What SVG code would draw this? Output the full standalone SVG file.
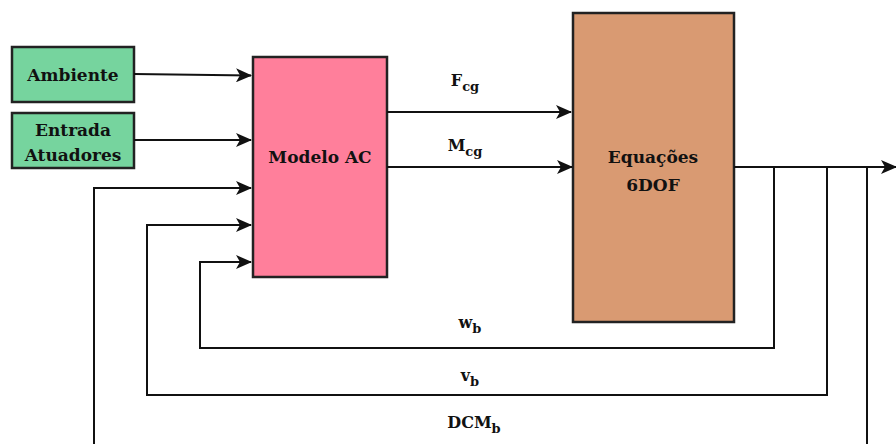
<svg xmlns="http://www.w3.org/2000/svg" width="896" height="444" viewBox="0 0 896 444">
<style>
.box{stroke:#222;stroke-width:2.5}
.t{font-family:"DejaVu Serif","Liberation Serif",serif;font-weight:bold;font-size:17px;fill:#111;text-anchor:middle}
.l{font-family:"DejaVu Serif","Liberation Serif",serif;font-weight:bold;font-size:16px;fill:#111;text-anchor:middle}
.sub{font-size:13px}
.c{fill:none;stroke:#111;stroke-width:2}
</style>
<defs>
<marker id="a" markerWidth="16" markerHeight="14" refX="15" refY="7" orient="auto" markerUnits="userSpaceOnUse">
<path d="M0,0 L16,7 L0,14 L4,7 Z" fill="#111"/>
</marker>
</defs>
<rect width="896" height="444" fill="#fff"/>
<g id="ambiente">
<rect class="box" x="12" y="47" width="122" height="55" fill="#76d49e"/>
<text class="t" x="73" y="81">Ambiente</text>
</g>
<g id="entrada">
<rect class="box" x="12" y="113" width="122" height="55" fill="#76d49e"/>
<text class="t" x="73" y="136">Entrada</text>
<text class="t" x="73" y="161">Atuadores</text>
</g>
<g id="modelo">
<rect class="box" x="253" y="57" width="134" height="220" fill="#ff7f9b"/>
<text class="t" x="320" y="163">Modelo AC</text>
</g>
<g id="equacoes">
<rect class="box" x="573" y="13" width="161" height="309" fill="#d99a72"/>
<text class="t" x="653" y="163">Equações</text>
<text class="t" x="653" y="191">6DOF</text>
</g>
<g id="connectors">
<path class="c" d="M134,74 L251,75.5" marker-end="url(#a)"/>
<path class="c" d="M134,140 L251,140" marker-end="url(#a)"/>
<path class="c" d="M387,112 L571,112" marker-end="url(#a)"/>
<path class="c" d="M387,167 L572,167" marker-end="url(#a)"/>
<path class="c" d="M734,167 L896,167" marker-end="url(#a)"/>
<path class="c" d="M774,167 L774,348 L200,348 L200,262 L251,262" marker-end="url(#a)"/>
<path class="c" d="M827,167 L827,395 L147,395 L147,225 L251,225" marker-end="url(#a)"/>
<path class="c" d="M867,167 L867,444"/>
<path class="c" d="M94,444 L94,188 L251,188" marker-end="url(#a)"/>
</g>
<g id="labels">
<text class="l" x="465" y="86">F<tspan class="sub" dy="5">cg</tspan></text>
<text class="l" x="465" y="151">M<tspan class="sub" dy="5">cg</tspan></text>
<text class="l" x="470" y="328">w<tspan class="sub" dy="5">b</tspan></text>
<text class="l" x="470" y="381">v<tspan class="sub" dy="5">b</tspan></text>
<text class="l" x="474" y="428">DCM<tspan class="sub" dy="5">b</tspan></text>
</g>
</svg>
